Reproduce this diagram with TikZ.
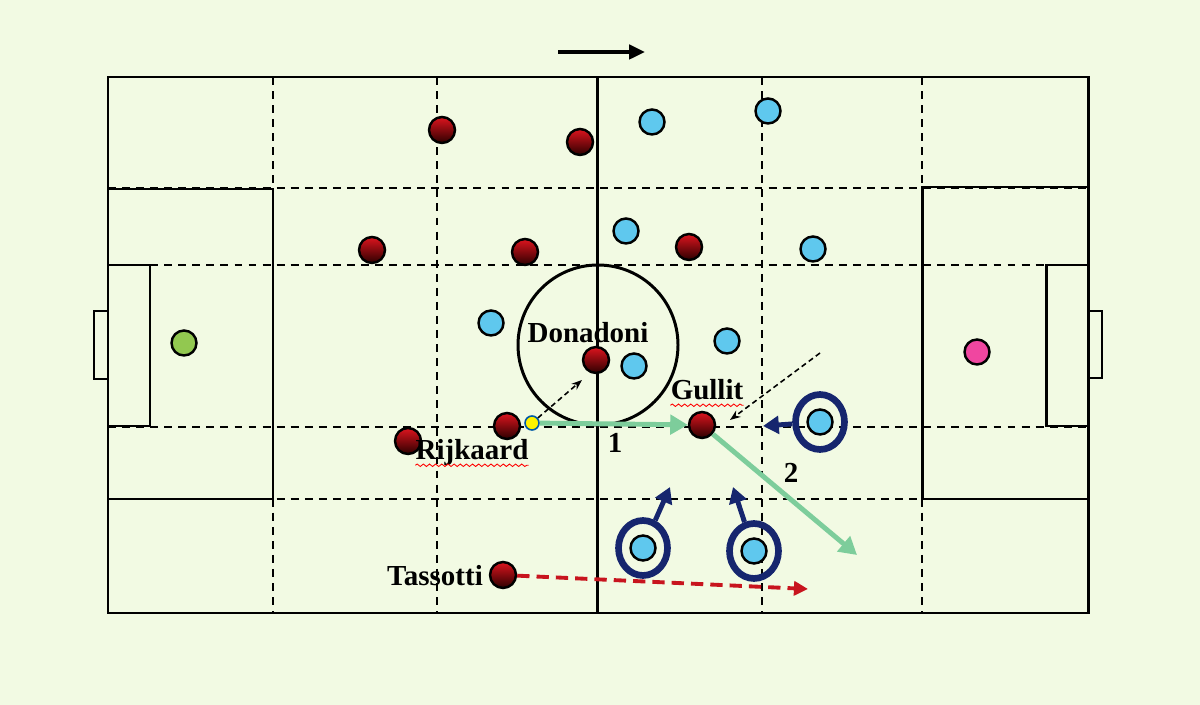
\documentclass[tikz,border=0pt]{standalone}
\usepackage{fontspec}
\setmainfont{Liberation Serif}
\usetikzlibrary{arrows.meta,shapes.geometric,decorations.pathmorphing}
\definecolor{grass}{RGB}{242,250,227}
\definecolor{milanred}{RGB}{220,20,30}
\definecolor{milandark}{RGB}{45,0,0}
\definecolor{oppblue}{RGB}{95,200,238}
\definecolor{navy}{RGB}{22,38,110}
\definecolor{mint}{RGB}{125,205,155}
\definecolor{keepgreen}{RGB}{146,200,80}
\definecolor{keeppink}{RGB}{240,70,160}
\definecolor{runred}{RGB}{200,20,30}
\begin{document}
\begin{tikzpicture}[x=0.02cm, y=-0.02cm,
    pitch/.style={line width=1.7pt},
    zone/.style={line width=1.1pt, dash pattern=on 4.5pt off 3.5pt},
    milan/.style={circle, draw, line width=1.4pt, minimum size=0.52cm, inner sep=0pt, top color=milanred, bottom color=milandark},
    opp/.style={circle, draw, line width=1.4pt, minimum size=0.5cm, inner sep=0pt, fill=oppblue},
    press/.style={ellipse, draw=navy, line width=3.8pt, minimum width=0.98cm, minimum height=1.1cm, inner sep=0pt},
    pressarrow/.style={-{Triangle[length=9pt, width=10pt]}, navy, line width=2.8pt},
    pass/.style={-{Triangle[length=10pt, width=11pt]}, mint, line width=2.8pt},
    hint/.style={-{Stealth[length=6pt]}, line width=0.9pt, dash pattern=on 3pt off 2pt},
    lbl/.style={font=\bfseries\fontsize{16.5}{18}\selectfont, anchor=base, inner sep=0pt},
    squiggle/.style={red, line width=0.5pt, decorate, decoration={snake, amplitude=0.7pt, segment length=3.5pt}}
]
% fond
\fill[grass] (0,0) rectangle (1200,705);
\useasboundingbox (0,0) rectangle (1200,705);

% zones
\foreach \x in {273, 437, 762, 922}
    \draw[zone] (\x,77) -- (\x,613);
\foreach \y in {188, 265, 427, 499}
    \draw[zone] (108,\y) -- (1088,\y);

% terrain
\draw[pitch] (108,77) rectangle (1088,613);
\draw[pitch] (597,77) -- (597,613);
\draw[pitch] (598,345) circle (80);
\draw[pitch] (108,189) rectangle (273,499);
\draw[pitch] (108,265) rectangle (150,426);
\draw[line width=0.8pt] (108,311) -- (94,311) -- (94,379) -- (108,379);
\draw[pitch] (922,187) rectangle (1088,499);
\draw[pitch] (1046,265) rectangle (1088,426);
\draw[line width=0.8pt] (1088,311) -- (1102,311) -- (1102,378) -- (1088,378);

% sens du jeu
\coordinate (dirA) at (558,52);
\coordinate (dirB) at (645,52);
\draw[-{Triangle[length=9pt, width=8pt]}, line width=2.2pt] (dirA) -- (dirB);

% gardiens
\node[circle, draw, line width=1.4pt, minimum size=0.5cm, inner sep=0pt, fill=keepgreen] (gkL) at (184,343) {};
\node[circle, draw, line width=1.4pt, minimum size=0.5cm, inner sep=0pt, fill=keeppink] (gkR) at (977,352) {};

% Milan
\foreach \x/\y/\n in {442/130/m1, 580/142/m2, 372/250/m3, 525/252/m4, 689/247/m5, 408/441/m6}
    \node[milan] (\n) at (\x,\y) {};
\node[milan] (donadoni) at (596,360) {};
\node[milan] (rijkaard) at (507,426) {};
\node[milan] (gullit) at (702,425) {};
\node[milan] (tassotti) at (503,575) {};

% adversaires
\foreach \x/\y/\n in {652/122/o1, 768/111/o2, 626/231/o3, 813/249/o4, 491/323/o5, 634/366/o6, 727/341/o7}
    \node[opp] (\n) at (\x,\y) {};
\foreach \x/\y/\n in {820/422/o8, 643/548/o9, 754/551/o10} {
    \node[opp] (\n) at (\x,\y) {};
    \node[press] (ring\n) at (\x,\y) {};
}

% ballon
\node[circle, draw=teal!70!blue, line width=0.9pt, fill=yellow, minimum size=0.28cm, inner sep=0pt] (ball) at (532,423) {};

% pressing
\coordinate (t8) at (763,426);
\coordinate (t9) at (670,487);
\coordinate (t10) at (733,487);
\draw[pressarrow] (ringo8) -- (t8);
\draw[pressarrow] (ringo9) -- (t9);
\draw[pressarrow] (ringo10) -- (t10);

% passes
\coordinate (p2) at (857,555);
\draw[pass] (ball) -- (gullit);
\draw[pass] (gullit) -- (p2);
\node[lbl] (n1) at (615,453) {1};
\node[lbl] (n2) at (791,483) {2};

% options
\coordinate (h1) at (582,380);
\coordinate (h2) at (820,353);
\coordinate (h3) at (730,420);
\draw[hint] (ball) -- (h1);
\draw[hint] (h2) -- (h3);
\coordinate (run) at (808,589);
\draw[-{Triangle[length=8pt, width=8pt]}, runred, line width=2.2pt, dash pattern=on 7pt off 4pt] (tassotti) -- (run);

% noms
\node[lbl] (lDon) at (588,343) {Donadoni};
\node[lbl] (lRij) at (472,460) {Rijkaard};
\node[lbl] (lGul) at (707,400) {Gullit};
\node[lbl] (lTas) at (435,585) {Tassotti};
\draw[squiggle] ([yshift=-3pt]lRij.base west) -- ([yshift=-3pt]lRij.base east);
\draw[squiggle] ([yshift=-3pt]lGul.base west) -- ([yshift=-3pt]lGul.base east);
\end{tikzpicture}
\end{document}
